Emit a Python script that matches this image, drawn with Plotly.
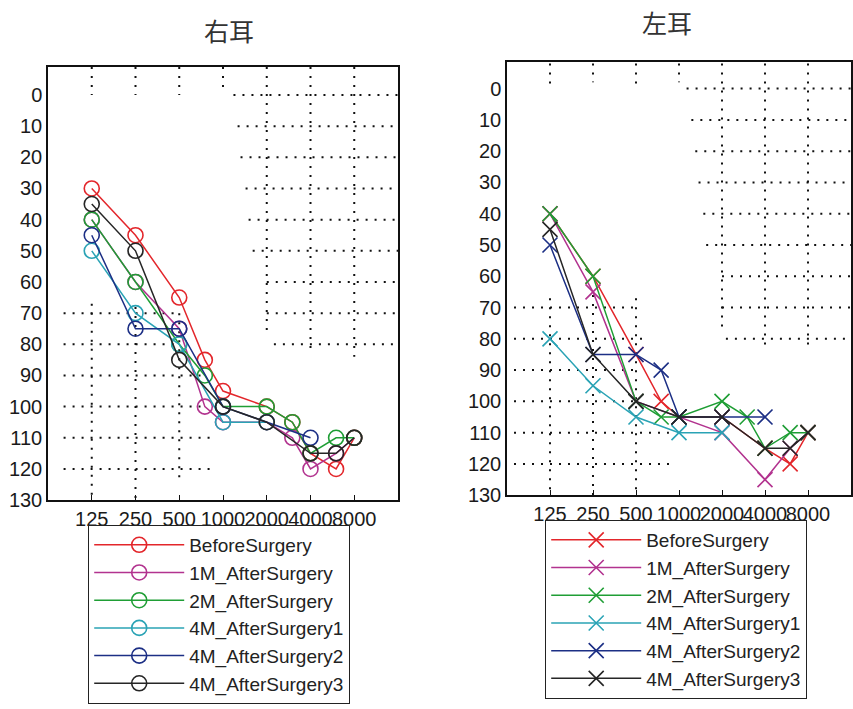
import math
import plotly.graph_objects as go

# ---------------- data ----------------
freqs = [125, 250, 500, 750, 1000, 2000, 3000, 4000, 6000, 8000]
tick_freqs = [125, 250, 500, 1000, 2000, 4000, 8000]
tick_labels = ["125", "250", "500", "1000", "2000", "4000", "8000"]
db_ticks = list(range(0, 140, 10))

series_names = ["BeforeSurgery", "1M_AfterSurgery", "2M_AfterSurgery",
                "4M_AfterSurgery1", "4M_AfterSurgery2", "4M_AfterSurgery3"]

# right ear (右耳)
right_before = [30, 45, 65, 85, 95, 100, 105, 115, 120, 110]
right_1m = [40, 60, 75, 100, 105, 105, 110, 120, 115, 110]
right_2m = [40, 60, 80, 90, 100, 100, 105, 115, 110, 110]
right_4m1 = [50, 70, 80, None, 105, 105, None, None, None, None]
right_4m2 = [45, 75, 75, None, 100, None, None, 110, None, None]
right_4m3 = [35, 50, 85, None, 100, 105, None, 115, 115, 110]

# left ear (左耳)
left_before = [40, 60, 85, 100, 105, 105, None, 115, 120, 110]
left_1m = [40, 65, 100, None, 105, 110, None, 125, 115, 110]
left_2m = [40, 60, 100, 105, 105, 100, 105, 115, 110, 110]
left_4m1 = [80, 95, 105, None, 110, 110, None, None, None, None]
left_4m2 = [50, 85, 85, 90, 105, 105, None, 105, None, None]
left_4m3 = [45, 85, 100, None, 105, 105, None, 115, 115, 110]

right_series = [right_before, right_1m, right_2m, right_4m1, right_4m2, right_4m3]
left_series = [left_before, left_1m, left_2m, left_4m1, left_4m2, left_4m3]

# ---------------- styles ----------------
colors = ["#e3262b", "#b2338f", "#1f9e35", "#2aa3b5", "#1c2f85", "#262626"]
tick_font = "Liberation Sans, Arial, sans-serif"
title_font = "Noto Sans CJK JP, Noto Sans CJK SC, sans-serif"

# dotted background pattern (freq start, freq end, dB) / (freq, dB start, dB end)
right_grid_h = [(1180, 16000, 0), (1260, 16000, 10), (1320, 16000, 20), (1430, 16000, 30),
                (1500, 16000, 40), (1600, 16000, 50), (2000, 16000, 60), (2000, 16000, 70),
                (2240, 15000, 80),
                (80, 500, 70), (80, 480, 80), (80, 700, 90), (80, 700, 100),
                (80, 860, 110), (80, 860, 120)]
right_grid_v = [(125, -9, 0), (250, -9, 0), (500, -9, 0), (1000, -9, -2),
                (2000, -9, 77), (4000, -9, 83), (8000, -9, 84),
                (125, 67, 130), (250, 68, 130), (500, 70, 123)]
left_grid_h = [(1130, 16000, 0), (1220, 16000, 10), (1300, 16000, 20), (1370, 16000, 30),
               (1480, 16000, 40), (1550, 16000, 50), (2000, 16000, 60), (2000, 16000, 70),
               (2130, 16000, 80),
               (70, 500, 70), (70, 590, 80), (70, 500, 90), (70, 500, 100),
               (70, 850, 110), (70, 870, 120)]
left_grid_v = [(125, -8, 0), (250, -8, -2), (500, -8, 0), (1000, -8, -2),
               (2000, -8, 78), (4000, -8, 82), (8000, -8, 83),
               (125, 67, 130), (250, 66, 130), (500, 67, 130)]

fig = go.Figure()


def add_grid(h, v, xa, ya):
    xs, ys = [], []
    for f0, f1, d in h:
        xs += [f0, f1, None]
        ys += [d, d, None]
    for f, d0, d1 in v:
        xs += [f, f, None]
        ys += [d0, d1, None]
    fig.add_trace(go.Scatter(x=xs, y=ys, mode="lines", xaxis=xa, yaxis=ya,
                             line=dict(color="#111111", width=2, dash="2px,7px"),
                             hoverinfo="skip", showlegend=False))


add_grid(right_grid_h, right_grid_v, "x", "y")
add_grid(left_grid_h, left_grid_v, "x2", "y2")

for name, vals, col in zip(series_names, right_series, colors):
    fig.add_trace(go.Scatter(
        x=freqs, y=vals, name=name, mode="lines+markers", connectgaps=True,
        xaxis="x", yaxis="y", legend="legend",
        line=dict(color=col, width=1.5),
        marker=dict(symbol="circle-open", size=15, color=col, line=dict(width=1.6))))

for name, vals, col in zip(series_names, left_series, colors):
    fig.add_trace(go.Scatter(
        x=freqs, y=vals, name=name, mode="lines+markers", connectgaps=True,
        xaxis="x2", yaxis="y2", legend="legend2",
        line=dict(color=col, width=1.5),
        marker=dict(symbol="x-thin-open", size=15, color=col, line=dict(width=1.6, color=col))))

W, H = 853, 709
xrange_log = [math.log10(62.5), math.log10(16000)]

xcommon = dict(type="log", range=xrange_log, tickvals=tick_freqs, ticktext=tick_labels,
               tickangle=0, showgrid=False, zeroline=False, showline=True, mirror=True,
               linecolor="#111111", linewidth=1.5, ticks="inside", ticklen=5,
               tickcolor="#111111", tickfont=dict(family=tick_font, size=20, color="#1a1a1a"))
ycommon = dict(tickvals=db_ticks, showgrid=False, zeroline=False, showline=True, mirror=True,
               linecolor="#111111", linewidth=1.5, ticks="",
               tickfont=dict(family=tick_font, size=20, color="#1a1a1a"))

legend_common = dict(xanchor="left", yanchor="top", bordercolor="#222222", borderwidth=1.2,
                     bgcolor="white", itemwidth=90, tracegroupgap=0,
                     font=dict(family=tick_font, size=19, color="#222222"))

fig.update_layout(
    width=W, height=H, autosize=False,
    margin=dict(l=0, r=0, t=0, b=0),
    paper_bgcolor="white", plot_bgcolor="white",
    xaxis=dict(domain=[48 / W, 398 / W], anchor="y", **xcommon),
    yaxis=dict(domain=[1 - 508 / H, 1 - 68 / H], anchor="x", range=[130, -9], **ycommon),
    xaxis2=dict(domain=[507 / W, 851 / W], anchor="y2", **xcommon),
    yaxis2=dict(domain=[1 - 503 / H, 1 - 63 / H], anchor="x2", range=[130, -8.5], **ycommon),
    legend=dict(x=88 / W, y=1 - 533 / H, **legend_common),
    legend2=dict(x=545 / W, y=1 - 528 / H, **legend_common),
    annotations=[
        dict(text="右耳", x=229 / W, y=1 - 30 / H, xref="paper", yref="paper",
             xanchor="center", yanchor="middle", showarrow=False,
             font=dict(family=title_font, size=25, color="#333333")),
        dict(text="左耳", x=667 / W, y=1 - 22 / H, xref="paper", yref="paper",
             xanchor="center", yanchor="middle", showarrow=False,
             font=dict(family=title_font, size=25, color="#333333")),
    ],
)

fig.write_html("out.html")
